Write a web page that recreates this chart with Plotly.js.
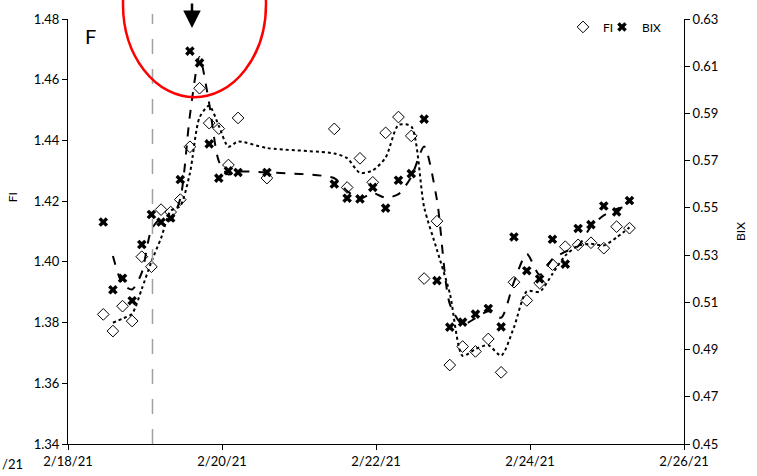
<!DOCTYPE html>
<html><head><meta charset="utf-8">
<script src="https://cdn.plot.ly/plotly-3.0.1.min.js"></script>
<style>html,body{margin:0;padding:0;background:#fff}#chart{width:757px;height:476px}</style>
</head><body><div id="chart"></div>
<script>
// ---- data ----
const sampleTimes = [
  '2021-02-18 11:00','2021-02-18 14:00','2021-02-18 17:00','2021-02-18 20:00','2021-02-18 23:00',
  '2021-02-19 02:00','2021-02-19 05:00','2021-02-19 08:00','2021-02-19 11:00','2021-02-19 14:00',
  '2021-02-19 17:00','2021-02-19 20:00','2021-02-19 23:00','2021-02-20 02:00','2021-02-20 05:00',
  '2021-02-20 14:00',
  '2021-02-21 11:00','2021-02-21 15:00','2021-02-21 19:00','2021-02-21 23:00','2021-02-22 03:00',
  '2021-02-22 07:00','2021-02-22 11:00','2021-02-22 15:00','2021-02-22 19:00','2021-02-22 23:00',
  '2021-02-23 03:00','2021-02-23 07:00','2021-02-23 11:00','2021-02-23 15:00','2021-02-23 19:00',
  '2021-02-23 23:00','2021-02-24 03:00','2021-02-24 07:00','2021-02-24 11:00','2021-02-24 15:00',
  '2021-02-24 19:00','2021-02-24 23:00','2021-02-25 03:00','2021-02-25 07:00'
];
const fiValues = [
  1.3827,1.3772,1.3854,1.3805,1.4017,1.3984,1.4172,1.4164,1.4205,1.4379,
  1.4572,1.4457,1.4439,1.4319,1.4474,
  1.4276,
  1.4438,1.4245,1.4341,1.4262,1.4425,1.4477,1.4415,1.3945,1.4134,1.3660,
  1.3721,1.3705,1.3746,1.3636,1.3933,1.3873,1.3930,1.3991,1.4050,1.4056,
  1.4063,1.4045,1.4116,1.4111
];
const bixValues = [
  0.5440,0.5153,0.5202,0.5107,0.5345,0.5472,0.5440,0.5457,0.5620,0.6164,
  0.6114,0.5771,0.5626,0.5657,0.5650,
  0.5650,
  0.5601,0.5541,0.5538,0.5587,0.5499,0.5617,0.5645,0.5876,0.5192,0.4995,
  0.5016,0.5050,0.5074,0.4996,0.5377,0.5234,0.5199,0.5367,0.5262,0.5413,
  0.5429,0.5508,0.5483,0.5531
];
const xTickVals = ['2021-02-18','2021-02-20','2021-02-22','2021-02-24','2021-02-26'];
const xTickText = ['2/18/21','2/20/21','2/22/21','2/24/21','2/26/21'];
const eventTime = '2021-02-19 02:20';

// 2-period moving average trendlines (as in the original spreadsheet chart)
function movingAvg(xs, ys) {
  const ox = [], oy = [];
  for (let i = 1; i < ys.length; i++) { ox.push(xs[i]); oy.push((ys[i] + ys[i - 1]) / 2); }
  return {x: ox, y: oy};
}
const fiMA = movingAvg(sampleTimes, fiValues);
const bixMA = movingAvg(sampleTimes, bixValues);

// pixel -> paper helpers for decorations (plot area 68..684 x 15..444)
const L = 68, R = 684, T = 15, B = 444;
const px = v => (v - L) / (R - L);
const py = v => (B - v) / (B - T);

const FONT = 'Lato, "Open Sans", sans-serif';

const traces = [
  {x: fiMA.x, y: fiMA.y, type: 'scatter', mode: 'lines', yaxis: 'y', showlegend: false,
   line: {color: '#000', width: 2, dash: 'dot', shape: 'spline', smoothing: 0.7}, hoverinfo: 'skip'},
  {x: bixMA.x, y: bixMA.y, type: 'scatter', mode: 'lines', yaxis: 'y2', showlegend: false,
   line: {color: '#000', width: 2, dash: 'dash', shape: 'spline', smoothing: 0.7}, hoverinfo: 'skip'},
  {x: sampleTimes, y: fiValues, name: 'FI', type: 'scatter', mode: 'markers', yaxis: 'y',
   legend: 'legend',
   marker: {symbol: 'diamond-open', size: 9, color: '#000', line: {width: 1, color: '#000'}}},
  {x: sampleTimes, y: bixValues, name: 'BIX', type: 'scatter', mode: 'markers', yaxis: 'y2',
   legend: 'legend2',
   marker: {symbol: 'x', size: 8.5, color: '#000', line: {width: 0}}}
];

const legendCommon = {orientation: 'h', xanchor: 'left', yanchor: 'middle',
  font: {size: 12, color: '#000'}, bgcolor: 'rgba(0,0,0,0)', itemwidth: 30};

const layout = {
  width: 757, height: 476,
  margin: {l: L, r: 757 - R, t: T, b: 476 - B, pad: 0},
  paper_bgcolor: '#fff', plot_bgcolor: '#fff',
  font: {family: FONT, size: 13, color: '#000'},
  showlegend: true,
  legend: Object.assign({x: px(563), y: py(23)}, legendCommon),
  legend2: Object.assign({x: px(602), y: py(23)}, legendCommon),
  xaxis: {type: 'date', range: ['2021-02-18', '2021-02-26'], tickmode: 'array',
          tickvals: xTickVals, ticktext: xTickText, showgrid: false, zeroline: false,
          showline: true, linecolor: '#000', linewidth: 1, ticks: 'outside', ticklen: 5,
          tickcolor: '#000', tickfont: {size: 13}},
  yaxis: {range: [1.34, 1.48], dtick: 0.02, tick0: 1.34, tickformat: '.2f', showgrid: false,
          zeroline: false, showline: true, linecolor: '#000', linewidth: 1, ticks: 'outside',
          ticklen: 5, tickcolor: '#000', tickfont: {size: 13}},
  yaxis2: {range: [0.45, 0.63], dtick: 0.02, tick0: 0.45, tickformat: '.2f', overlaying: 'y',
           side: 'right', showgrid: false, zeroline: false, showline: true, linecolor: '#000',
           linewidth: 1, ticks: 'outside', ticklen: 5, tickcolor: '#000', tickfont: {size: 13},
           title: {text: 'BIX', font: {size: 12}, standoff: 18}},
  shapes: [
    {type: 'line', xref: 'x', yref: 'paper', x0: eventTime, x1: eventTime, y0: 0, y1: py(10),
     line: {color: '#a0a0a0', width: 1.5, dash: 'longdash'}},
    {type: 'circle', xref: 'paper', yref: 'paper', x0: px(123), x1: px(266), y0: py(94), y1: py(-94),
     line: {color: '#ff0000', width: 2.5}}
  ],
  annotations: [
    {text: 'F', xref: 'paper', yref: 'paper', x: px(90), y: py(32), showarrow: false,
     font: {size: 20, color: '#000'}, xanchor: 'center', yanchor: 'middle'},
    {text: 'FI', xref: 'paper', yref: 'paper', x: px(12), y: py(195), showarrow: false,
     textangle: -90, font: {size: 12, color: '#000'}, xanchor: 'center', yanchor: 'middle'},
    {text: '/21', xref: 'paper', yref: 'paper', x: px(0), y: py(464), showarrow: false,
     font: {size: 13, color: '#000'}, xanchor: 'left', yanchor: 'middle'},
    {text: '', xref: 'paper', yref: 'paper', x: px(192), y: py(24), ax: 0, ay: -26,
     showarrow: true, arrowhead: 2, arrowsize: 1.4, arrowwidth: 2.5, arrowcolor: '#000', standoff: 0}
  ]
};

Plotly.newPlot('chart', traces, layout, {staticPlot: true, displayModeBar: false});
</script>
</body></html>
